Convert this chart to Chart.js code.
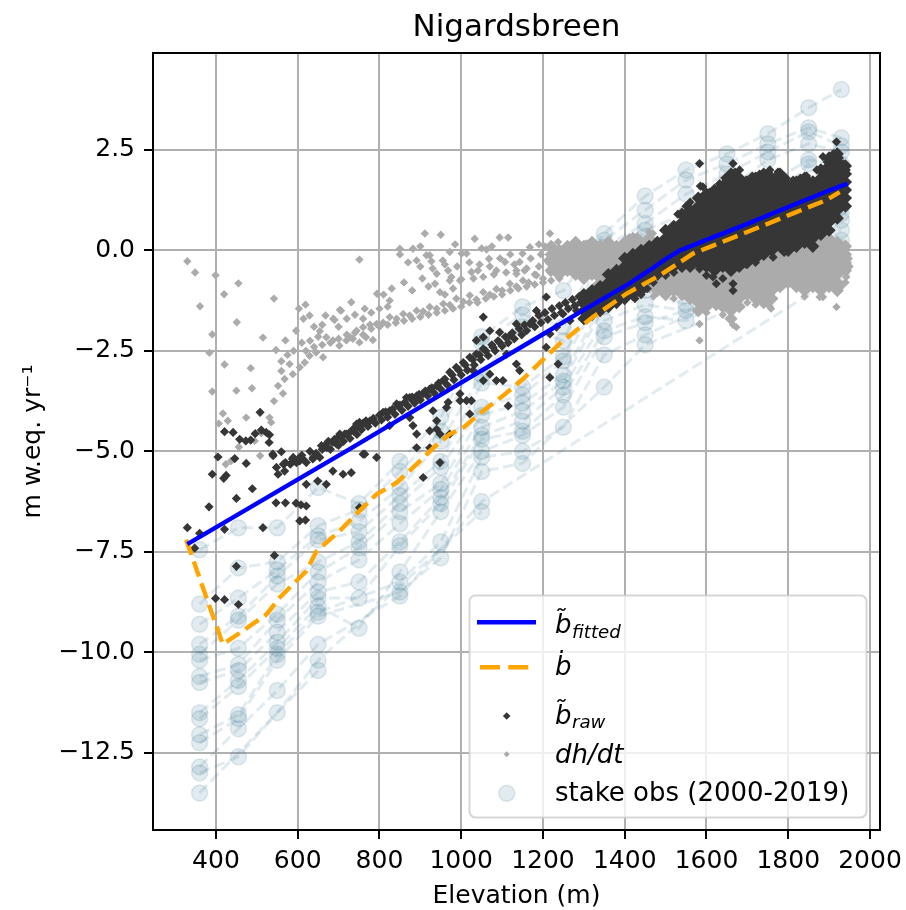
<!DOCTYPE html>
<html><head><meta charset="utf-8">
<script src="https://cdn.jsdelivr.net/npm/chart.js@4/dist/chart.umd.min.js"></script>
<style>html,body{margin:0;padding:0;background:#fff}canvas{display:block}</style>
</head><body>
<canvas id="c" width="906" height="910"></canvas>
<script>
const chartTitle = 'Nigardsbreen';
const xLabel = 'Elevation (m)';
const yLabel = 'm w.eq. yr\u207B\u00B9';
const xTicks = [400,600,800,1000,1200,1400,1600,1800,2000];
const yTicks = [-12.5,-10,-7.5,-5,-2.5,0,2.5];

// b~ fitted (blue) and b-dot (orange dashed)
const fittedLine = [[330,-7.31],[728,-4.94],[1000,-3.29],[1168,-2.28],[1300,-1.48],[1412,-0.82],[1460,-0.5],[1500,-0.22],[1535,0.0],[1600,0.26],[1700,0.66],[1800,1.08],[1900,1.49],[1945,1.66]];
const bdotLine = [[327,-7.2],[417,-9.8],[458,-9.52],[523,-9.06],[555,-8.65],[588,-8.31],[621,-7.98],[645,-7.5],[670,-7.27],[703,-6.98],[744,-6.55],[793,-6.07],[842,-5.78],[891,-5.32],[932,-4.91],[972,-4.57],[1005,-4.41],[1054,-3.99],[1102,-3.62],[1151,-3.2],[1241,-2.32],[1322,-1.66],[1404,-1.08],[1486,-0.62],[1530,-0.33],[1567,-0.08],[1649,0.25],[1730,0.58],[1812,0.92],[1893,1.25],[1926,1.45]];

// stake observations: elevations and values per elevation (sorted high->low)
const stakeElev = [360,455,550,650,750,850,950,1050,1150,1250,1350,1450,1550,1650,1750,1850,1930];
const stakeCols = [
 [-7.45,-8.8,-9.3,-9.8,-10.05,-10.2,-10.6,-10.75,-11.5,-11.65,-12.05,-12.25,-12.85,-13.0,-13.5],
 [-6.9,-7.9,-8.65,-9.1,-9.2,-9.9,-10.3,-10.45,-10.7,-10.85,-11.55,-11.65,-11.9,-12.6],
 [-6.9,-7.75,-7.95,-8.1,-8.3,-9.05,-9.2,-9.5,-9.75,-9.9,-10.05,-10.2,-10.95,-11.5],
 [-5.9,-6.85,-7.1,-7.2,-7.75,-8.0,-8.25,-8.5,-8.65,-8.85,-9.0,-9.1,-9.8,-10.2,-10.45],
 [-6.3,-6.45,-6.75,-7.0,-7.25,-7.4,-7.7,-8.25,-8.65,-9.4],
 [-5.25,-5.5,-5.9,-6.1,-6.3,-6.5,-6.8,-7.25,-7.35,-8.0,-8.25,-8.5,-8.6],
 [-4.15,-4.5,-4.75,-5.25,-5.4,-5.8,-5.95,-6.15,-6.3,-6.5,-7.25,-7.65],
 [-2.15,-2.3,-3.1,-3.3,-3.9,-4.1,-4.4,-4.6,-4.7,-5.0,-5.15,-5.5,-6.25,-6.5],
 [-1.4,-1.6,-1.9,-3.4,-3.6,-3.8,-4.0,-4.25,-4.5,-4.6,-5.0,-5.3],
 [-1.0,-1.9,-2.25,-2.65,-2.75,-3.1,-3.25,-3.4,-3.6,-3.9,-4.4],
 [0.42,0.25,0.08,-0.75,-1.0,-1.25,-1.4,-1.75,-2.0,-2.15,-2.6,-3.4],
 [1.35,1.0,0.67,0.5,0.35,-0.75,-1.0,-1.35,-1.65,-1.8,-2.1,-2.35],
 [2.0,1.75,1.4,0.92,-0.33,-1.0,-1.35,-1.5,-1.75],
 [2.4,2.15,1.9,1.5,0.5,0.17,-0.65,-1.25],
 [2.9,2.65,2.45,2.25,1.65,1.08,0.5,-0.17,-0.65,-0.9],
 [3.55,3.05,2.95,2.65,2.25,2.15,1.25,0.67,0.5],
 [4.0,2.8,2.6,2.45,2.15,1.08,0.92,0.75,0.5,0.25,0.08,-0.35,-0.58]
];

// b~ raw: scattered points
const rawPts = [[330,-6.9],[348,-7.41],[360,-7.04],[383,-6.38],[391,-5.57],[405,-5.14],[419,-5.67],[425,-5.6],[421,-4.51],[442,-4.53],[446,-5.18],[450,-6.17],[458,-4.7],[473,-4.74],[485,-4.72],[474,-5.3],[489,-5.93],[496,-4.56],[508,-4.03],[511,-4.47],[523,-4.53],[531,-4.59],[530,-4.78],[421,-6.94],[515,-6.9],[450,-7.86],[399,-8.66],[421,-8.69],[455,-8.81],[543,-7.59],[539,-5.07],[560,-5.01],[582,-5.32],[570,-5.28],[587,-5.19],[592,-5.24],[552,-5.57],[568,-5.49],[547,-6.28],[570,-6.28],[596,-6.29],[608,-6.33],[621,-6.36],[605,-6.73],[619,-6.71],[605,-5.24],[621,-5.28],[637,-5.19],[654,-5.15],[670,-4.82],[686,-4.78],[698,-4.66],[715,-4.57],[735,-4.45],[751,-4.28],[767,-4.24],[621,-5.82],[649,-5.74],[670,-5.82],[686,-5.49],[711,-5.57],[731,-5.53],[751,-6.4],[764,-5.07],[540,-5.11],[548,-5.4],[565,-5.32],[589,-5.15],[597,-5.28],[613,-5.19],[638,-5.15],[658,-4.86],[671,-4.91],[695,-4.82],[703,-4.57],[720,-4.57],[736,-4.49],[752,-4.36],[777,-4.24],[809,-4.03],[825,-3.99],[846,-3.87],[866,-3.66],[882,-3.74],[891,-3.62],[907,-3.57],[923,-3.45],[940,-3.37],[956,-3.24],[972,-3.03],[988,-2.91],[1005,-2.79],[1021,-2.66],[1037,-2.58],[1054,-2.45],[1078,-2.41],[1094,-2.29],[1119,-2.12],[760,-5.07],[793,-5.15],[825,-4.36],[882,-4.36],[891,-4.91],[907,-5.65],[931,-3.99],[940,-4.45],[948,-5.28],[968,-3.78],[997,-3.74],[1025,-3.74],[1054,-3.24],[1086,-3.24],[1115,-3.87],[1135,-2.83],[1143,-2.99],[744,-4.32],[842,-3.82],[874,-3.66],[1037,-2.24],[1054,-2.16],[1054,-1.66],[1070,-2.0],[1094,-2.04],[1111,-2.58],[1135,-1.83],[1168,-1.83],[1184,-1.5],[1208,-1.16],[1217,-2.08],[1233,-1.91],[1249,-1.58],[1266,-1.75],[1282,-1.5],[1029,-2.99],[1013,-3.74],[1021,-4.07],[1070,-3.08],[1102,-3.24],[1208,-2.41],[1237,-2.83],[1217,-3.16],[997,-3.57],[964,-3.91],[940,-4.24],[923,-4.49],[972,-4.57],[948,-4.57],[874,-4.16],[891,-4.57],[923,-4.91],
[600,-5.2],[610,-5.1],[630,-5.0],[645,-5.05],[660,-4.95],[675,-4.75],[680,-4.95],[690,-4.7],[700,-4.85],[705,-4.65],[712,-4.75],[725,-4.55],[728,-4.68],[740,-4.42],[745,-4.58],[756,-4.46],[760,-4.3],[772,-4.38],[785,-4.18],[790,-4.3],[800,-4.1],[805,-4.22],[815,-4.02],[820,-4.15],[832,-3.95],[838,-4.08],[850,-3.85],[855,-3.98],[862,-3.78],[870,-3.88],[880,-3.65],[886,-3.8],[897,-3.58],[900,-3.72],[912,-3.5],[918,-3.62],[928,-3.42],[934,-3.55],[945,-3.3],[950,-3.45],[960,-3.2],[966,-3.35],[978,-3.1],[982,-3.22],[994,-2.98],[1000,-3.1],[1010,-2.85],[1015,-2.98],[1028,-2.72],[1032,-2.85],[1045,-2.6],[1048,-2.72],[1060,-2.5],[1066,-2.62],[1075,-2.35],[1083,-2.5],[1090,-2.25],[1100,-2.38],[1108,-2.15],[1115,-2.3],[1125,-2.05],[1130,-2.2],[1142,-1.95],[1148,-2.1],[1155,-1.85],[1160,-2.0],[1175,-1.75],[1180,-1.9],[1190,-1.62],[1195,-1.8],[1205,-1.55],[1212,-1.72],[1222,-1.45],[1228,-1.62],[1240,-1.38],[1245,-1.55],[1255,-1.3],[1262,-1.45],[1272,-1.22],[1278,-1.38],[1288,-1.15],[1292,-1.3],
[1616,-0.66],[1624,-0.83],[1665,-0.83],[1665,-1.0],[1640,-0.7],[1600,-0.62],[1583,-0.46],[1697,-0.35],[1720,-0.3],[1763,-0.17],[1790,-0.05],[1540,-0.45],[1520,-0.55],[1500,-0.62],[1470,-0.8],[1455,-0.95],[1440,-1.1],[1425,-1.2],
[1585,1.6],[1591,1.58],[1632,1.66],[1665,2.16],[1681,2.0],[1697,1.75],[1755,2.0],[1812,1.75],[1861,1.75],[1885,2.33],[1918,2.7],[1942,2.0],[1910,2.4],[1925,2.3],[1935,2.15],[1583,2.16],[1608,1.45],[1550,1.1],[1530,0.9],[1560,1.2],[1645,1.8],[1670,1.95],[1712,1.85],[1730,1.9],[1775,1.95],[1795,1.8],[1830,1.8],[1845,1.85],[1870,2.0],[1895,2.2]];

// b~ raw: dense part of the cloud, per elevation
const rawCore = [
 [1300,[-1.7,-1.5,-1.3,-1.1]],[1320,[-1.6,-1.4,-1.2,-1.0]],[1340,[-1.5,-1.3,-1.1,-0.9]],[1360,[-1.4,-1.2,-1.0,-0.8,-0.6]],
 [1380,[-1.3,-1.1,-0.9,-0.7,-0.5]],[1400,[-1.2,-1.0,-0.8,-0.6,-0.4,-0.2]],[1420,[-1.1,-0.9,-0.7,-0.5,-0.3,-0.1]],[1440,[-1.0,-0.8,-0.6,-0.4,-0.2,0]],
 [1460,[-0.7,-0.5,-0.3,-0.1,0.1]],[1480,[-0.6,-0.4,-0.2,0,0.2]],[1500,[-0.5,-0.3,-0.1,0.1,0.3,0.5]],[1520,[-0.4,-0.2,0,0.2,0.4,0.6]],
 [1540,[-0.3,-0.1,0.1,0.3,0.5,0.7,0.9]],[1560,[-0.4,-0.2,0,0.2,0.4,0.6,0.8,1.0]],[1580,[-0.3,-0.1,0.1,0.3,0.5,0.7,0.9,1.1,1.3]],
 [1600,[-0.4,-0.2,0,0.2,0.4,0.6,0.8,1.0,1.2,1.4]],[1620,[-0.5,-0.3,-0.1,0.1,0.3,0.5,0.7,0.9,1.1,1.3,1.5]],[1640,[-0.4,-0.2,0,0.2,0.4,0.6,0.8,1.0,1.2,1.4,1.6]],
 [1660,[-0.5,-0.3,-0.1,0.1,0.3,0.5,0.7,0.9,1.1,1.3,1.5,1.7,1.9]],[1680,[-0.4,-0.2,0,0.2,0.4,0.6,0.8,1.0,1.2,1.4,1.6,1.8]],
 [1700,[-0.3,-0.1,0.1,0.3,0.5,0.7,0.9,1.1,1.3,1.5,1.7]],[1720,[-0.2,0,0.2,0.4,0.6,0.8,1.0,1.2,1.4,1.6,1.8]],
 [1740,[-0.1,0.1,0.3,0.5,0.7,0.9,1.1,1.3,1.5,1.7,1.9]],[1760,[0,0.2,0.4,0.6,0.8,1.0,1.2,1.4,1.6,1.8]],
 [1780,[0.1,0.3,0.5,0.7,0.9,1.1,1.3,1.5,1.7,1.9]],[1800,[0,0.2,0.4,0.6,0.8,1.0,1.2,1.4,1.6]],
 [1820,[0.1,0.3,0.5,0.7,0.9,1.1,1.3,1.5,1.7]],[1840,[0.2,0.4,0.6,0.8,1.0,1.2,1.4,1.6,1.8]],
 [1860,[0.1,0.3,0.5,0.7,0.9,1.1,1.3,1.5,1.7]],[1880,[0.4,0.6,0.8,1.0,1.2,1.4,1.6,1.8,2.0]],
 [1900,[0.5,0.7,0.9,1.1,1.3,1.5,1.7,1.9,2.1,2.3]],[1920,[0.8,1.0,1.2,1.4,1.6,1.8,2.0,2.2,2.4]],[1940,[1.1,1.3,1.5,1.7,1.9,2.1]]
];

// dh/dt: scattered points
const dhdtPts = [[330,-0.27],[349,-0.55],[399,-0.62],[361,-1.39],[420,-1.09],[455,-0.82],[451,-1.79],[391,-2.09],[384,-2.55],[421,-2.84],[485,-2.93],[391,-3.51],[450,-3.49],[488,-3.43],[417,-4.06],[429,-4.24],[407,-4.31],[474,-4.16],[456,-4.89],[424,-5.32],[437,-5.24],[508,-5.11],[511,-4.55],[495,-4.74],[531,-4.16],[535,-4.28],[542,-1.2],[515,-2.17],[570,-2.24],[547,-2.48],[560,-2.76],[580,-2.83],[552,-3.37],[564,-3.56],[542,-3.75],[568,-3.2],[588,-3.08],[605,-2.91],[617,-2.79],[629,-2.62],[645,-2.54],[662,-2.66],[596,-2.0],[603,-1.45],[619,-1.35],[629,-1.62],[654,-2.01],[670,-2.16],[686,-2.24],[702,-2.37],[719,-2.24],[735,-2.2],[751,-2.29],[767,-2.16],[784,-2.23],[668,-1.62],[690,-1.73],[706,-1.5],[731,-1.29],[764,-1.45],[751,-0.23],[614,-1.7],[687,-1.7],[703,-1.48],[794,-1.08],[825,-1.25],[850,0.04],[882,0.04],[911,0.42],[950,0.39],[891,-0.25],[927,-0.27],[940,-0.58],[936,-0.83],[948,-1.04],[972,-0.04],[968,-0.5],[976,-0.66],[997,-0.75],[1001,-0.08],[1013,-0.08],[1033,0.29],[1025,-0.54],[1041,-0.5],[1062,0.02],[1068,-0.21],[1094,0.32],[1115,0.32],[1086,-0.5],[1107,-0.29],[1143,-0.29],[1135,-0.58],[1155,-0.5],
[728,-2.16],[744,-2.0],[760,-1.91],[777,-1.85],[793,-1.83],[809,-1.8],[825,-1.66],[842,-1.7],[858,-1.58],[874,-1.62],[891,-1.5],[907,-1.52],[923,-1.41],[940,-1.45],[956,-1.33],[972,-1.36],[988,-1.2],[1005,-1.28],[1021,-1.12],[1037,-1.22],[1054,-1.04],[1070,-1.1],[1086,-0.96],[1100,-1.0],[1119,-0.83],[1135,-0.9],[1151,-0.75],[1165,-0.8],[1184,-0.62],[1200,-0.7],[1217,-0.54],[1233,-0.6],[1249,-0.46],[1265,-0.5],[1282,-0.37],[1298,-0.4],[1314,-0.33],[1330,-0.36],[1347,-0.29],[1363,-0.3],[1380,-0.25],[1396,-0.28],[1412,-0.21],
[972,-0.75],[1000,-0.72],[1030,-0.7],[1054,-0.66],[1080,-0.6],[1110,-0.55],[1135,-0.5],[1160,-0.45],[1190,-0.4],[1217,-0.33],[1245,-0.3],[1270,-0.25],[1298,-0.21],[1325,-0.15],[1355,-0.12],
[850,-0.1],[870,-0.3],[900,0.1],[915,-0.12],[923,-0.12],[955,-0.25],[985,0.15],[1050,0.05],[1075,0.1],[1150,-0.08],[1168,0.08],[1217,0.42],[1237,0.21],[1260,0.1],[1314,0.17],[1290,0.05],[810,-1.1],[830,-0.95],[860,-0.8],[880,-1.0],[905,-0.7],[920,-0.9],[960,-1.1],[980,-0.95],
[620,-2.5],[640,-2.4],[660,-2.35],[680,-2.3],[700,-2.2],[720,-2.1],[740,-2.05],[760,-2.1],[780,-1.95],[800,-1.9],[820,-1.85],[840,-1.8],[860,-1.75],[880,-1.7],[900,-1.65],[920,-1.6],[940,-1.55],[960,-1.5],[980,-1.45],[1000,-1.4],[1020,-1.3],[1040,-1.3],[1060,-1.2],[1080,-1.15],[1100,-1.1],[1120,-1.0],[1140,-0.95],[1160,-0.9],[1180,-0.85],[1200,-0.8],[1220,-0.75],[1240,-0.7],
[900,-0.4],[930,-0.45],[960,-0.35],[990,-0.4],[1020,-0.3],[1045,-0.35],[1070,-0.4],[1095,-0.2],[1120,-0.1],[1130,-0.35],[1170,-0.2],[1180,-0.6],[1195,-0.1],[1205,0.1],[1210,-0.25],[1190,0.15],
[560,-3.0],[575,-2.6],[590,-2.5],[610,-2.3],[630,-2.25],[650,-2.15],[640,-1.9],[660,-1.85],[700,-1.9],[720,-1.7],[740,-1.6],[760,-1.7],[780,-1.55],[800,-1.45],[820,-1.4],
[1583,-1.83],[1583,-2.24],[1673,-1.91],[1665,-1.85],[1624,-1.41],[1551,-1.16],[1758,-1.45],[1755,-1.4],[1885,-1.16],[1918,-1.41],[1942,-0.66],[1877,-1.16],[1840,-1.15],[1700,-1.3],[1720,-1.35],[1640,-1.6],[1600,-1.55],[1520,-1.2],[1470,-1.15],[1430,-1.1],[1390,-0.95],[1360,-1.0],[1330,-0.85],[1460,0.45],[1500,0.35],[1540,0.3],[1430,0.35],[1410,0.3],[1469,0.42],[1306,0.17],[1412,0.33],[1950,-0.4],[1948,-0.2],[1940,-0.8],[1930,-0.9]];

// dh/dt: dense part of the cloud, per elevation
const dhdtCore = [
 [1220,[-0.5,-0.3,-0.1,0.1]],[1240,[-0.6,-0.4,-0.2,0]],[1260,[-0.5,-0.3,-0.1,0.1]],[1280,[-0.6,-0.4,-0.2,0,0.2]],
 [1300,[-0.7,-0.5,-0.3,-0.1,0.1]],[1320,[-0.6,-0.4,-0.2,0,0.2]],[1340,[-0.7,-0.5,-0.3,-0.1,0.1]],[1360,[-0.8,-0.6,-0.4,-0.2,0,0.2]],
 [1380,[-0.7,-0.5,-0.3,-0.1,0.1]],[1400,[-0.8,-0.6,-0.4,-0.2,0,0.2]],[1420,[-0.9,-0.7,-0.5,-0.3,-0.1,0.1,0.3]],[1440,[-1.0,-0.8,-0.6,-0.4,-0.2,0,0.2]],
 [1460,[-0.9,-0.7,-0.5,-0.3,-0.1,0.1,0.3]],[1480,[-1.0,-0.8,-0.6,-0.4,-0.2,0,0.2]],[1500,[-1.1,-0.9,-0.7,-0.5,-0.3,-0.1,0.1,0.3]],[1520,[-1.0,-0.8,-0.6,-0.4,-0.2,0,0.2]],
 [1540,[-1.1,-0.9,-0.7,-0.5,-0.3,-0.1,0.1]],[1560,[-1.2,-1.0,-0.8,-0.6,-0.4,-0.2,0]],[1580,[-1.5,-1.3,-1.1,-0.9,-0.7,-0.5,-0.3]],[1600,[-1.4,-1.2,-1.0,-0.8,-0.6,-0.4]],
 [1620,[-1.3,-1.1,-0.9,-0.7,-0.5]],[1640,[-1.4,-1.2,-1.0,-0.8,-0.6,-0.4]],[1660,[-1.7,-1.5,-1.3,-1.1,-0.9,-0.7,-0.5]],[1680,[-1.4,-1.2,-1.0,-0.8,-0.6,-0.4]],
 [1700,[-1.1,-0.9,-0.7,-0.5,-0.3]],[1720,[-1.2,-1.0,-0.8,-0.6,-0.4,-0.2]],[1740,[-1.3,-1.1,-0.9,-0.7,-0.5,-0.3,-0.1]],[1760,[-1.2,-1.0,-0.8,-0.6,-0.4,-0.2,0]],
 [1780,[-0.9,-0.7,-0.5,-0.3,-0.1,0.1]],[1800,[-0.8,-0.6,-0.4,-0.2,0]],[1820,[-0.9,-0.7,-0.5,-0.3,-0.1,0.1]],[1840,[-1.0,-0.8,-0.6,-0.4,-0.2,0]],
 [1860,[-0.9,-0.7,-0.5,-0.3,-0.1,0.1]],[1880,[-1.0,-0.8,-0.6,-0.4,-0.2,0,0.2]],[1900,[-0.9,-0.7,-0.5,-0.3,-0.1,0.1,0.3]],[1920,[-1.0,-0.8,-0.6,-0.4,-0.2,0,0.2]],
 [1940,[-0.5,-0.3,-0.1,0.1]]
];

// ---------- build datasets ----------
const FONT = 'DejaVu Sans';
const STAKE = 'rgba(60,120,150,0.15)';
const BLACK = '#363636', GRAY = '#ababab';
const toXY = a => a.map(p => ({x: p[0], y: p[1]}));
const fromCols = c => c.flatMap(([e, ys]) => ys.map(y => ({x: e, y})));

const stakePts = stakeElev.flatMap((e, j) => stakeCols[j].map(y => ({x: e, y})));
const maxLen = Math.max(...stakeCols.map(c => c.length));
const yearLines = [];
for (let k = 0; k < maxLen; k++) {
  const pts = [];
  stakeElev.forEach((e, j) => { if (stakeCols[j][k] !== undefined) pts.push({x: e, y: stakeCols[j][k]}); });
  yearLines.push({data: pts, showLine: true, borderColor: STAKE, borderWidth: 3, borderDash: [11, 5],
    pointRadius: 0, order: 20 + k});
}

const datasets = [
  {data: toXY(fittedLine), showLine: true, borderColor: '#0000ff', borderWidth: 4.4, pointRadius: 0, order: 0},
  {data: toXY(bdotLine), showLine: true, borderColor: '#ffa500', borderWidth: 4.4, borderDash: [16, 7], pointRadius: 0, order: 1},
  {data: toXY(rawPts), pointStyle: 'rectRot', pointRadius: 4.6, borderWidth: 0, backgroundColor: BLACK, order: 2},
  {data: fromCols(rawCore), pointStyle: 'rectRot', pointRadius: 6.6, borderWidth: 0, backgroundColor: BLACK, order: 3},
  {data: toXY(dhdtPts), pointStyle: 'rectRot', pointRadius: 4.2, borderWidth: 0, backgroundColor: GRAY, order: 4},
  {data: fromCols(dhdtCore), pointStyle: 'rectRot', pointRadius: 6.6, borderWidth: 0, backgroundColor: GRAY, order: 5},
  {data: stakePts, pointStyle: 'circle', pointRadius: 8, borderWidth: 1.5, backgroundColor: STAKE, borderColor: STAKE, order: 6},
  ...yearLines
];

// ---------- title, frame and legend ----------
const deco = {
  id: 'deco',
  afterDatasetsDraw(chart) {
    const ctx = chart.ctx, a = chart.chartArea;
    ctx.save();
    ctx.strokeStyle = '#000'; ctx.lineWidth = 2;
    ctx.strokeRect(a.left, a.top, a.right - a.left, a.bottom - a.top);
    ctx.restore();
  },
  afterDraw(chart) {
    const ctx = chart.ctx, a = chart.chartArea;
    ctx.save();
    ctx.fillStyle = '#000';
    ctx.font = '31px "' + FONT + '"';
    ctx.textAlign = 'center'; ctx.textBaseline = 'alphabetic';
    ctx.fillText(chartTitle, (a.left + a.right) / 2, 36);

    // legend box
    ctx.beginPath();
    ctx.roundRect(469.5, 595.5, 397, 222, 6);
    ctx.fillStyle = 'rgba(255,255,255,0.8)'; ctx.fill();
    ctx.strokeStyle = 'rgba(204,204,204,0.8)'; ctx.lineWidth = 2; ctx.stroke();

    ctx.lineCap = 'butt';
    ctx.beginPath(); ctx.strokeStyle = '#0000ff'; ctx.lineWidth = 4.4;
    ctx.moveTo(477, 622.3); ctx.lineTo(536, 622.3); ctx.stroke();
    ctx.beginPath(); ctx.strokeStyle = '#ffa500'; ctx.setLineDash([20, 8.3]);
    ctx.moveTo(480, 667.3); ctx.lineTo(529, 667.3); ctx.stroke(); ctx.setLineDash([]);
    const diamond = (x, y, r, c) => { ctx.beginPath(); ctx.moveTo(x - r, y); ctx.lineTo(x, y - r); ctx.lineTo(x + r, y); ctx.lineTo(x, y + r); ctx.closePath(); ctx.fillStyle = c; ctx.fill(); };
    diamond(506.7, 716, 3.8, BLACK);
    diamond(506.7, 754.3, 3.0, GRAY);
    ctx.beginPath(); ctx.arc(506.7, 793.3, 8, 0, Math.PI * 2);
    ctx.fillStyle = STAKE; ctx.fill(); ctx.strokeStyle = STAKE; ctx.lineWidth = 1.5; ctx.stroke();

    ctx.fillStyle = '#000'; ctx.textAlign = 'left';
    const it = s => 'italic ' + s + 'px "' + FONT + '"';
    ctx.font = it(26); ctx.fillText('b\u0303', 555, 633);
    ctx.font = it(18.2); ctx.fillText('fitted', 572, 638);
    ctx.font = it(26); ctx.fillText('\u1E03', 555, 675);
    ctx.font = it(26); ctx.fillText('b\u0303', 555, 723.5);
    ctx.font = it(18.2); ctx.fillText('raw', 572, 728);
    ctx.font = it(26); ctx.fillText('dh/dt', 555, 762.5);
    ctx.font = '26px "' + FONT + '"'; ctx.fillText('stake obs (2000-2019)', 555, 801);
    ctx.restore();
  }
};

const fmtY = v => (v < 0 ? '\u2212' : '') + Math.abs(v).toFixed(1);

new Chart(document.getElementById('c'), {
  type: 'scatter',
  data: {datasets},
  plugins: [deco],
  options: {
    responsive: false, animation: false, events: [],
    layout: {padding: {left: 0, right: 26, top: 53, bottom: 0}},
    plugins: {legend: {display: false}, title: {display: false}, tooltip: {enabled: false}},
    elements: {line: {tension: 0}},
    scales: {
      x: {
        type: 'linear', min: 246, max: 2024.5,
        afterBuildTicks: s => { s.ticks = xTicks.map(v => ({value: v})); },
        afterFit: s => { s.height = 80; s.paddingLeft = 0; s.paddingRight = 0; },
        grid: {color: '#b0b0b0', lineWidth: 2, tickColor: '#000', tickLength: 9, tickWidth: 2},
        border: {color: '#000', width: 2},
        ticks: {color: '#000', font: {family: FONT, size: 25}, padding: 7, maxRotation: 0, minRotation: 0, autoSkip: false, callback: v => String(v)},
        title: {display: true, text: xLabel, color: '#000', font: {family: FONT, size: 25, lineHeight: 1.12}, padding: {top: 0, bottom: 0}}
      },
      y: {
        type: 'linear', min: -14.42, max: 4.91,
        afterBuildTicks: s => { s.ticks = yTicks.map(v => ({value: v})); },
        afterFit: s => { s.width = 153; s.paddingTop = 0; s.paddingBottom = 0; },
        grid: {color: '#b0b0b0', lineWidth: 2, tickColor: '#000', tickLength: 9, tickWidth: 2},
        border: {color: '#000', width: 2},
        ticks: {color: '#000', font: {family: FONT, size: 25}, padding: 9, autoSkip: false, callback: v => fmtY(v)},
        title: {display: true, text: yLabel, color: '#000', font: {family: FONT, size: 25, lineHeight: 1.2}, padding: {top: 18, bottom: 0}}
      }
    }
  }
});
</script>
</body></html>
